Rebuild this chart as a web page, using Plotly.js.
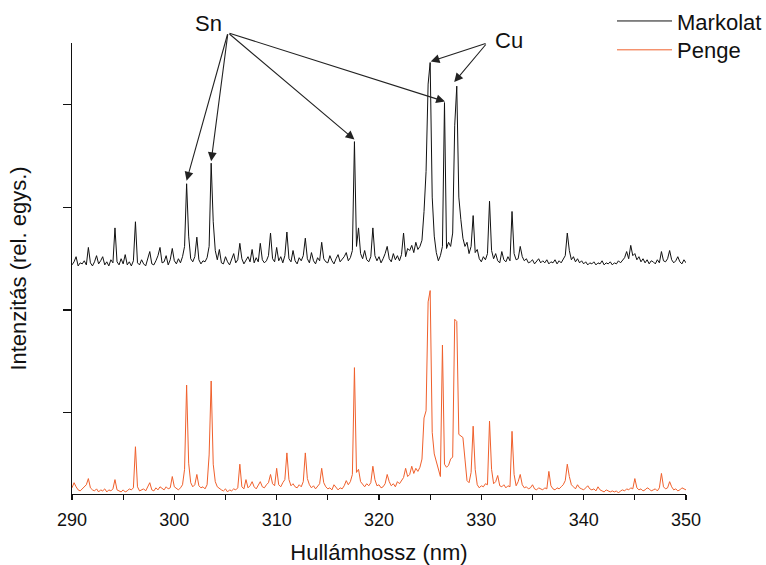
<!DOCTYPE html>
<html>
<head>
<meta charset="utf-8">
<script src="https://cdn.plot.ly/plotly-3.0.1.min.js"></script>
<style>html,body{margin:0;padding:0;background:#fff;}#chart{width:766px;height:565px;}</style>
</head>
<body>
<div id="chart"></div>
<script>
// Wavelength grid (nm)
const wavelength = [
290,290.2,290.4,290.6,290.8,291,291.2,291.4,291.6,291.8,292,292.2,292.4,292.6,292.8,293,293.2,293.4,293.6,293.8,294,294.2,294.4,294.6,294.8,
295,295.2,295.4,295.6,295.8,296,296.2,296.4,296.6,296.8,297,297.2,297.4,297.6,297.8,298,298.2,298.4,298.6,298.8,299,299.2,299.4,299.6,299.8,
300,300.2,300.4,300.6,300.8,301,301.2,301.4,301.6,301.8,302,302.2,302.4,302.6,302.8,303,303.2,303.4,303.6,303.8,304,304.2,304.4,304.6,304.8,
305,305.2,305.4,305.6,305.8,306,306.2,306.4,306.6,306.8,307,307.2,307.4,307.6,307.8,308,308.2,308.4,308.6,308.8,309,309.2,309.4,309.6,309.8,
310,310.2,310.4,310.6,310.8,311,311.2,311.4,311.6,311.8,312,312.2,312.4,312.6,312.8,313,313.2,313.4,313.6,313.8,314,314.2,314.4,314.6,314.8,
315,315.2,315.4,315.6,315.8,316,316.2,316.4,316.6,316.8,317,317.2,317.4,317.6,317.8,318,318.2,318.4,318.6,318.8,319,319.2,319.4,319.6,319.8,
320,320.2,320.4,320.6,320.8,321,321.2,321.4,321.6,321.8,322,322.2,322.4,322.6,322.8,323,323.2,323.4,323.6,323.8,324,324.2,324.4,324.6,324.8,
325,325.2,325.4,325.6,325.8,326,326.2,326.4,326.6,326.8,327,327.2,327.4,327.6,327.8,328,328.2,328.4,328.6,328.8,329,329.2,329.4,329.6,329.8,
330,330.2,330.4,330.6,330.8,331,331.2,331.4,331.6,331.8,332,332.2,332.4,332.6,332.8,333,333.2,333.4,333.6,333.8,334,334.2,334.4,334.6,334.8,
335,335.2,335.4,335.6,335.8,336,336.2,336.4,336.6,336.8,337,337.2,337.4,337.6,337.8,338,338.2,338.4,338.6,338.8,339,339.2,339.4,339.6,339.8,
340,340.2,340.4,340.6,340.8,341,341.2,341.4,341.6,341.8,342,342.2,342.4,342.6,342.8,343,343.2,343.4,343.6,343.8,344,344.2,344.4,344.6,344.8,
345,345.2,345.4,345.6,345.8,346,346.2,346.4,346.6,346.8,347,347.2,347.4,347.6,347.8,348,348.2,348.4,348.6,348.8,349,349.2,349.4,349.6,349.8,
350];

// Markolat (hilt) spectrum, offset upward (rel. units)
const markolat = [
2.44,2.47,2.52,2.43,2.46, 2.45,2.48,2.44,2.61,2.46, 2.43,2.47,2.53,2.45,2.48, 2.52,2.44,2.47,2.43,2.49, 2.46,2.80,2.47,2.44,2.50,
2.45,2.54,2.44,2.47,2.43, 2.48,2.86,2.46,2.44,2.49, 2.45,2.43,2.50,2.57,2.45, 2.44,2.48,2.53,2.61,2.46, 2.47,2.53,2.44,2.49,2.60,
2.48,2.45,2.50,2.46,2.52, 2.62,3.23,2.72,2.50,2.47, 2.52,2.71,2.49,2.45,2.48, 2.47,2.51,2.62,3.43,2.86, 2.58,2.49,2.59,2.46,2.45,
2.52,2.47,2.44,2.50,2.55, 2.46,2.49,2.65,2.50,2.45, 2.48,2.52,2.47,2.59,2.46, 2.51,2.47,2.65,2.49,2.46, 2.48,2.53,2.75,2.50,2.47,
2.61,2.48,2.52,2.46,2.53, 2.76,2.50,2.47,2.58,2.48, 2.45,2.51,2.48,2.53,2.70, 2.50,2.46,2.56,2.48,2.45, 2.51,2.48,2.66,2.50,2.47,
2.46,2.53,2.48,2.45,2.50, 2.54,2.47,2.49,2.52,2.56, 2.48,2.51,2.58,3.64,2.62, 2.80,2.55,2.50,2.58,2.49, 2.47,2.52,2.80,2.53,2.48,
2.52,2.46,2.50,2.55,2.62, 2.50,2.47,2.55,2.49,2.53, 2.48,2.54,2.75,2.52,2.60, 2.58,2.63,2.56,2.66,2.59, 2.62,2.68,2.96,3.35,4.20,
4.41,3.10,2.72,2.56,2.48, 2.53,2.62,4.02,2.60,2.66, 2.62,2.75,3.80,4.18,3.10, 2.88,2.70,2.62,2.66,2.55, 2.62,2.92,2.56,2.59,2.50,
2.47,2.52,2.49,2.55,3.06, 2.58,2.50,2.55,2.48,2.46, 2.57,2.49,2.47,2.52,2.48, 2.96,2.55,2.49,2.50,2.62, 2.52,2.48,2.50,2.46,2.47,
2.49,2.45,2.47,2.50,2.46, 2.48,2.46,2.49,2.45,2.47, 2.46,2.49,2.45,2.48,2.46, 2.50,2.53,2.75,2.58,2.49, 2.52,2.47,2.50,2.46,2.48,
2.45,2.47,2.44,2.46,2.45, 2.47,2.44,2.46,2.45,2.48, 2.44,2.46,2.45,2.47,2.44, 2.46,2.45,2.48,2.46,2.49, 2.51,2.57,2.50,2.63,2.53,
2.55,2.49,2.52,2.47,2.50, 2.46,2.49,2.45,2.48,2.47, 2.45,2.49,2.46,2.57,2.48, 2.47,2.50,2.58,2.49,2.46, 2.48,2.52,2.47,2.45,2.49,
2.46];

// Penge (blade) spectrum (rel. units)
const penge = [
0.27,0.32,0.28,0.25,0.24, 0.26,0.28,0.30,0.36,0.27, 0.25,0.24,0.26,0.23,0.25, 0.24,0.26,0.23,0.25,0.24, 0.26,0.35,0.25,0.24,0.23,
0.25,0.23,0.24,0.26,0.25, 0.27,0.67,0.28,0.24,0.25, 0.26,0.24,0.28,0.32,0.25, 0.24,0.27,0.25,0.28,0.26, 0.25,0.28,0.26,0.27,0.38,
0.28,0.26,0.25,0.27,0.30, 0.45,1.27,0.51,0.32,0.28, 0.30,0.40,0.29,0.27,0.28, 0.26,0.30,0.59,1.31,0.50, 0.33,0.28,0.26,0.25,0.24,
0.26,0.23,0.25,0.24,0.26, 0.25,0.27,0.50,0.28,0.26, 0.35,0.27,0.29,0.33,0.28, 0.26,0.29,0.33,0.28,0.27, 0.30,0.32,0.40,0.31,0.29,
0.46,0.30,0.28,0.32,0.35, 0.61,0.35,0.29,0.31,0.28, 0.27,0.30,0.28,0.33,0.61, 0.36,0.30,0.27,0.29,0.26, 0.28,0.31,0.46,0.32,0.28,
0.26,0.27,0.25,0.30,0.27, 0.25,0.27,0.26,0.29,0.34, 0.30,0.33,0.40,1.44,0.42, 0.45,0.33,0.30,0.28,0.31, 0.29,0.32,0.48,0.35,0.29,
0.30,0.27,0.28,0.31,0.40, 0.33,0.29,0.31,0.28,0.33, 0.31,0.34,0.37,0.46,0.38, 0.40,0.48,0.41,0.46,0.43, 0.47,0.55,0.95,1.02,2.08,
2.19,0.81,0.60,0.52,0.45, 0.38,1.66,0.50,0.47,0.49, 0.55,0.57,1.91,1.89,0.79, 0.77,0.76,0.55,0.34,0.32, 0.42,0.87,0.45,0.30,0.27,
0.29,0.28,0.31,0.30,0.92, 0.45,0.31,0.33,0.39,0.29, 0.28,0.30,0.27,0.29,0.28, 0.82,0.40,0.29,0.33,0.40, 0.30,0.27,0.28,0.26,0.27,
0.30,0.26,0.25,0.27,0.26, 0.25,0.27,0.26,0.43,0.29, 0.26,0.25,0.27,0.26,0.28, 0.30,0.34,0.50,0.38,0.30, 0.28,0.26,0.30,0.27,0.26,
0.25,0.27,0.29,0.26,0.25, 0.26,0.24,0.28,0.25,0.24, 0.23,0.25,0.24,0.23,0.24, 0.23,0.24,0.22,0.24,0.25, 0.24,0.26,0.25,0.27,0.26,
0.36,0.27,0.25,0.26,0.24, 0.25,0.27,0.26,0.24,0.25, 0.26,0.24,0.27,0.41,0.28, 0.26,0.27,0.33,0.28,0.25, 0.26,0.24,0.25,0.27,0.26,
0.25];

const seriesNames = ['Markolat', 'Penge'];
const xTickVals = [290,295,300,305,310,315,320,325,330,335,340,345,350];
const xTickText = ['290','','300','','310','','320','','330','','340','','350'];
const yTickVals = [1,2,3,4];

// Annotated lines: label (paper position), arrow tail and arrow heads [nm, intensity]
const snLabel = {text:'Sn', x:0.2231, y:1.044};
const snTail = [305.24, 4.70];
const snHeads = [[301.2, 3.26], [303.6, 3.45], [317.6, 3.66], [326.45, 4.03]];
const cuLabel = {text:'Cu', x:0.711, y:1.006};
const cuTail = [330.56, 4.60];
const cuHeads = [[325.05, 4.42], [327.35, 4.22]];

const FONT = '"Liberation Sans", Arial, Helvetica, sans-serif';
const INK = '#111111';

const traces = [
  {x: wavelength, y: markolat, name: seriesNames[0], type: 'scatter', mode: 'lines',
   line: {color: '#111111', width: 1}, hoverinfo: 'skip', legend: 'legend'},
  {x: wavelength, y: penge, name: seriesNames[1], type: 'scatter', mode: 'lines',
   line: {color: '#f0602c', width: 1}, hoverinfo: 'skip', legend: 'legend2'}
];

const annotations = [];
function arrows(tail, heads) {
  heads.forEach(h => annotations.push({
    x: h[0], y: h[1], xref: 'x', yref: 'y', ax: tail[0], ay: tail[1], axref: 'x', ayref: 'y',
    text: '', showarrow: true, arrowhead: 2, arrowsize: 1.6, arrowwidth: 1.1, arrowcolor: '#222',
    standoff: 0, startstandoff: 0
  }));
}
arrows(snTail, snHeads);
arrows(cuTail, cuHeads);
[snLabel, cuLabel].forEach(l => annotations.push({
  x: l.x, y: l.y, xref: 'paper', yref: 'paper', text: l.text, showarrow: false,
  xanchor: 'center', yanchor: 'middle',
  font: {family: FONT, size: 22, color: INK}
}));

const legendStyle = {xanchor: 'left', yanchor: 'top', bgcolor: 'rgba(0,0,0,0)',
  borderwidth: 0, font: {family: FONT, size: 22, color: INK}, itemwidth: 55};

const layout = {
  width: 766, height: 565,
  margin: {l: 72, r: 80, t: 43, b: 71, pad: 0, autoexpand: false},
  paper_bgcolor: '#ffffff', plot_bgcolor: '#ffffff',
  font: {family: FONT, size: 22, color: INK},
  showlegend: true,
  legend: Object.assign({x: 0.8795, y: 1.095}, legendStyle),
  legend2: Object.assign({x: 0.8795, y: 1.031}, legendStyle),
  xaxis: {range: [290, 350], tickmode: 'array', tickvals: xTickVals, ticktext: xTickText,
          ticks: 'outside', ticklen: 5, tickwidth: 1.3, tickcolor: INK,
          showline: true, linecolor: INK, linewidth: 1.3, showgrid: false, zeroline: false,
          tickfont: {family: FONT, size: 18, color: INK}, ticklabelstandoff: 4,
          title: {text: 'Hullámhossz (nm)', font: {family: FONT, size: 22, color: INK}, standoff: 16},
          automargin: false},
  yaxis: {range: [0.21, 4.60], tickmode: 'array', tickvals: yTickVals, showticklabels: false,
          ticks: 'outside', ticklen: 8, tickwidth: 1.3, tickcolor: INK,
          showline: true, linecolor: INK, linewidth: 1.3, showgrid: false, zeroline: false,
          title: {text: 'Intenzitás (rel. egys.)', font: {family: FONT, size: 22, color: INK}, standoff: 30},
          automargin: false},
  annotations: annotations
};

Plotly.newPlot('chart', traces, layout, {staticPlot: true, displayModeBar: false});
</script>
</body>
</html>
